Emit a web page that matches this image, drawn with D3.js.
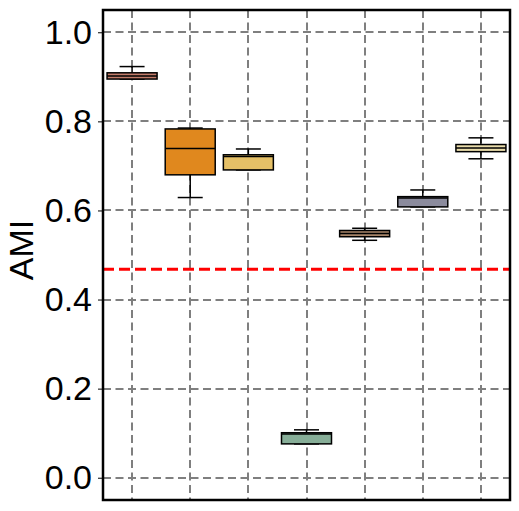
<!DOCTYPE html>
<html>
<head>
<meta charset="utf-8">
<script src="https://cdn.jsdelivr.net/npm/d3@7"></script>
<style>
  body { margin: 0; background: #fff; }
  svg { display: block; font-family: "Liberation Sans", Arial, sans-serif; }
</style>
</head>
<body>
<script>
// chart values
var groups = ["g1", "g2", "g3", "g4", "g5", "g6", "g7"];
var lowWhisker = [0.895, 0.629, 0.691, 0.076, 0.533, 0.608, 0.716];
var q1 = [0.895, 0.680, 0.691, 0.076, 0.541, 0.608, 0.732];
var medians = [0.902, 0.739, 0.721, 0.098, 0.548, 0.628, 0.740];
var q3 = [0.909, 0.783, 0.725, 0.101, 0.555, 0.631, 0.748];
var highWhisker = [0.923, 0.785, 0.738, 0.1075, 0.560, 0.646, 0.763];
var boxColors = ["#c27c6a", "#e0881e", "#e5c067", "#87ae98", "#a8866a", "#8b8b9d", "#e9dcaa"];
var yTicks = [0.0, 0.2, 0.4, 0.6, 0.8, 1.0];
var baseline = 0.468;

var margin = {top: 10, right: 9, bottom: 11, left: 103};
var width = 519 - margin.left - margin.right;
var height = 511 - margin.top - margin.bottom;

var svg = d3.select("body").append("svg")
    .attr("width", 519)
    .attr("height", 511)
  .append("g")
    .attr("transform", "translate(" + margin.left + "," + margin.top + ")");

var x = d3.scaleBand()
    .domain(groups)
    .range([0, width]);

var y = d3.scaleLinear()
    .domain([-0.05, 1.05])
    .range([height, 0]);

var bw = x.bandwidth() * 0.86;

//grid lines
svg.append("g")
  .selectAll("line.hgrid")
  .data(yTicks)
  .enter().append("line")
    .attr("class", "hgrid")
    .attr("x1", 0).attr("x2", width)
    .attr("y1", function(d) { return Math.round(y(d)); })
    .attr("y2", function(d) { return Math.round(y(d)); })
    .attr("stroke", "#7f7f7f")
    .attr("stroke-width", 2)
    .attr("stroke-dasharray", "8,4.5");

svg.append("g")
  .selectAll("line.vgrid")
  .data(groups)
  .enter().append("line")
    .attr("class", "vgrid")
    .attr("x1", function(d) { return Math.round(x(d) + x.bandwidth() / 2); })
    .attr("x2", function(d) { return Math.round(x(d) + x.bandwidth() / 2); })
    .attr("y1", 0).attr("y2", height)
    .attr("stroke", "#7f7f7f")
    .attr("stroke-width", 2)
    .attr("stroke-dasharray", "8,4.5");

//boxes
var box = svg.selectAll(".box")
    .data(groups)
  .enter().append("g")
    .attr("class", "box")
    .attr("transform", function(d) { return "translate(" + (x(d) + x.bandwidth() / 2) + ",0)"; });

// whiskers
box.append("line")
    .attr("x1", 0).attr("x2", 0)
    .attr("y1", function(d, i) { return y(highWhisker[i]); })
    .attr("y2", function(d, i) { return y(q3[i]); })
    .attr("stroke", "#000").attr("stroke-width", 1.5);
box.append("line")
    .attr("x1", 0).attr("x2", 0)
    .attr("y1", function(d, i) { return y(q1[i]); })
    .attr("y2", function(d, i) { return y(lowWhisker[i]); })
    .attr("stroke", "#000").attr("stroke-width", 1.5);
box.append("line")
    .attr("x1", -bw / 4).attr("x2", bw / 4)
    .attr("y1", function(d, i) { return y(highWhisker[i]); })
    .attr("y2", function(d, i) { return y(highWhisker[i]); })
    .attr("stroke", "#000").attr("stroke-width", 1.5);
box.append("line")
    .attr("x1", -bw / 4).attr("x2", bw / 4)
    .attr("y1", function(d, i) { return y(lowWhisker[i]); })
    .attr("y2", function(d, i) { return y(lowWhisker[i]); })
    .attr("stroke", "#000").attr("stroke-width", 1.5);

box.append("rect")
    .attr("x", -bw / 2)
    .attr("width", bw)
    .attr("y", function(d, i) { return y(q3[i]); })
    .attr("height", function(d, i) { return y(q1[i]) - y(q3[i]); })
    .attr("fill", function(d, i) { return boxColors[i]; })
    .attr("stroke", "#000")
    .attr("stroke-width", 1.5);

box.append("line")
    .attr("x1", -bw / 2).attr("x2", bw / 2)
    .attr("y1", function(d, i) { return y(medians[i]); })
    .attr("y2", function(d, i) { return y(medians[i]); })
    .attr("stroke", "#000").attr("stroke-width", 1.5);

//baseline
svg.append("line")
    .attr("x1", 0).attr("x2", width)
    .attr("y1", y(baseline)).attr("y2", y(baseline))
    .attr("stroke", "#ff0000")
    .attr("stroke-width", 3)
    .attr("stroke-dasharray", "11,5");

//left axis
var yAxis = d3.axisLeft(y)
    .tickValues(yTicks)
    .tickFormat(d3.format(".1f"))
    .tickSize(5)
    .tickPadding(6);

svg.append("g")
    .attr("class", "y axis")
    .call(yAxis)
    .call(function(g) { g.select(".domain").remove(); })
    .selectAll("text")
      .style("font-size", "34px")
      .attr("fill", "#000");
svg.selectAll(".y.axis .tick line").attr("stroke", "#000").attr("stroke-width", 1);

//frame
svg.append("rect")
    .attr("width", width)
    .attr("height", height)
    .attr("fill", "none")
    .attr("stroke", "#000")
    .attr("stroke-width", 2.5);

//label
svg.append("text")
    .attr("transform", "translate(" + (-margin.left + 33) + "," + (y(0.5) - 5) + ") rotate(-90)")
    .attr("text-anchor", "middle")
    .style("font-size", "34px")
    .text("AMI");
</script>
</body>
</html>
